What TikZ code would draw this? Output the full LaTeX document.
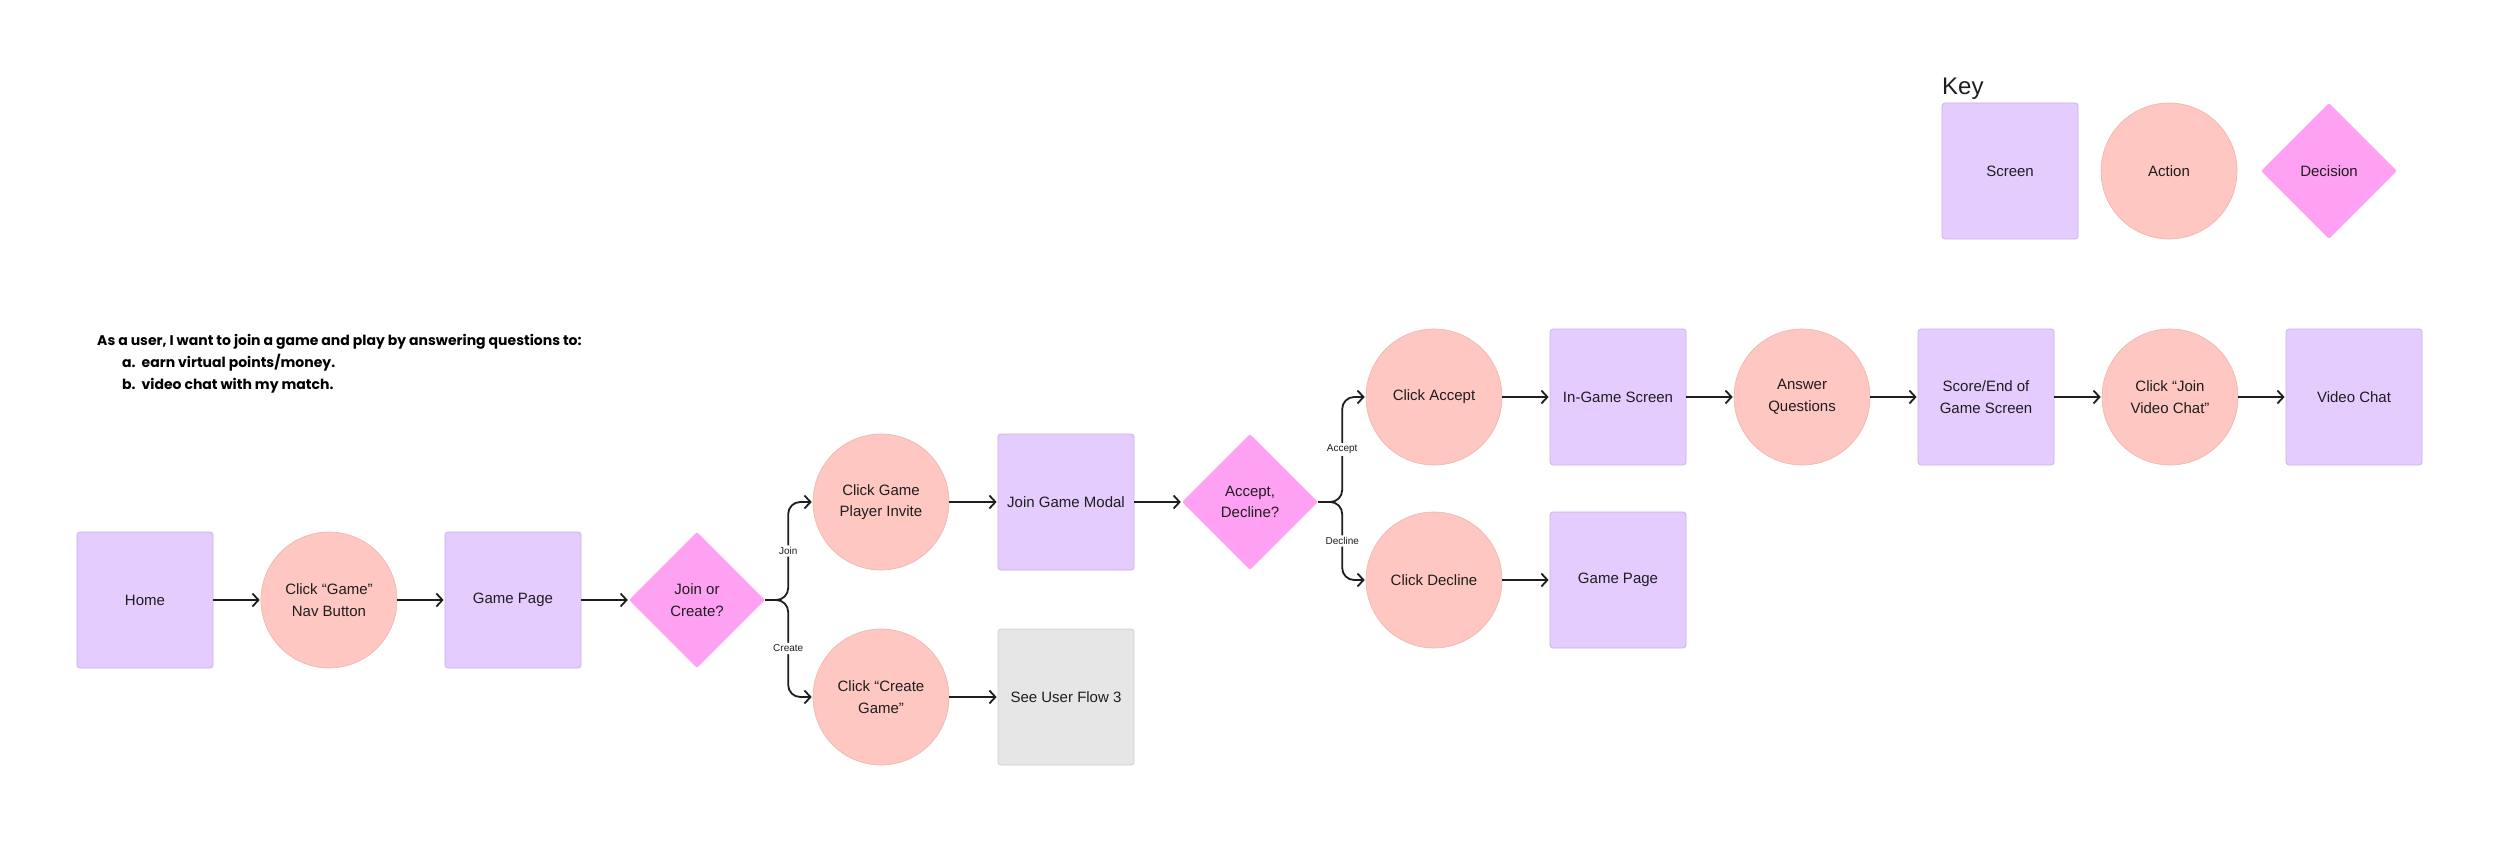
\documentclass[tikz,border=0pt]{standalone}
\usepackage{fontspec}
\setmainfont{Liberation Sans}
\newfontfamily\popfont{Poppins}
\usetikzlibrary{shapes.geometric,arrows.meta}
\definecolor{scr}{HTML}{E4CCFF}
\definecolor{scrb}{HTML}{C9B2E4}
\definecolor{act}{HTML}{FFC7C2}
\definecolor{actb}{HTML}{EDB4AE}
\definecolor{dec}{HTML}{FFA1F3}
\definecolor{gry}{HTML}{E6E6E6}
\definecolor{gryb}{HTML}{CFCFCF}
\definecolor{ink}{HTML}{1E1E1E}
\tikzset{
  base/.style={inner sep=0pt, align=center, text=ink, font=\fontsize{15}{21.5}\selectfont},
  screen/.style={base, draw=scrb, line width=0.8pt, fill=scr, rounded corners=3pt, minimum width=136pt, minimum height=136pt},
  other/.style={base, draw=gryb, line width=0.8pt, fill=gry, rounded corners=3pt, minimum width=136pt, minimum height=136pt},
  action/.style={base, circle, draw=actb, line width=0.6pt, fill=act, minimum size=136pt},
  decision/.style={base, diamond, fill=dec, aspect=1, minimum width=136pt, minimum height=136pt, rounded corners=2pt},
  flow/.style={draw=ink, line width=1.8pt, -{Straight Barb[length=6pt,width=13pt,line width=1.8pt]}, shorten >=1pt},
  branch/.style={flow, rounded corners=12pt},
  blabel/.style={fill=white, inner sep=2pt, text=ink, font=\fontsize{10}{12}\selectfont}
}
\begin{document}
\begin{tikzpicture}[x=1pt,y=-1pt]
\useasboundingbox[fill=white] (0,0) rectangle (2500,842);

% heading (anchor at the baseline of its last line)
\node[anchor=base west, inner sep=0pt, align=left, text=black, font=\popfont\bfseries\fontsize{14}{21.6}\selectfont] (story) at (97,389)
  {As a user, I want to join a game and play by answering questions to:\\
   \hspace*{25pt}a.\hspace*{6pt}earn virtual points/money.\\
   \hspace*{25pt}b.\hspace*{6pt}video chat with my match.};

% key
\node[anchor=base west, inner sep=0pt, text=ink, font=\fontsize{24}{28}\selectfont] (keytitle) at (1942,95) {Key};
\node[screen] (kscreen) at (2010,171) {Screen};
\node[action] (kaction) at (2169,171) {Action};
\node[decision] (kdecision) at (2329,171) {Decision};

% main flow
\node[screen] (home) at (145,600) {Home};
\node[action] (clickgame) at (329,600) {Click “Game”\\Nav Button};
\node[screen] (gamepage) at (513,600) {Game Page};
\node[decision] (joincreate) at (697,600) {Join or\\Create?};
\node[action] (invite) at (881,502) {Click Game\\Player Invite};
\node[screen] (modal) at (1066,502) {Join Game Modal};
\node[action] (create) at (881,697) {Click “Create\\Game”};
\node[other] (flow3) at (1066,697) {See User Flow 3};
\node[decision] (accdec) at (1250,502) {Accept,\\Decline?};
\node[action] (accept) at (1434,397) {Click Accept};
\node[screen] (ingame) at (1618,397) {In-Game Screen};
\node[action] (answer) at (1802,397) {Answer\\Questions};
\node[screen] (score) at (1986,397) {Score/End of\\Game Screen};
\node[action] (joinvc) at (2170,397) {Click “Join\\Video Chat”};
\node[screen] (video) at (2354,397) {Video Chat};
\node[action] (decline) at (1434,580) {Click Decline};
\node[screen] (gamepage2) at (1618,580) {Game Page};

% connectors
\draw[flow] (home) -- (clickgame);
\draw[flow] (clickgame) -- (gamepage);
\draw[flow] (gamepage) -- (joincreate);
\draw[branch] (joincreate.east) -- ++(23,0) |- node[blabel,pos=0.25]{Join} (invite.west);
\draw[branch] (joincreate.east) -- ++(23,0) |- node[blabel,pos=0.25]{Create} (create.west);
\draw[flow] (invite) -- (modal);
\draw[flow] (create) -- (flow3);
\draw[flow] (modal) -- (accdec);
\draw[branch] (accdec.east) -- ++(24,0) |- node[blabel,pos=0.25]{Accept} (accept.west);
\draw[branch] (accdec.east) -- ++(24,0) |- node[blabel,pos=0.25]{Decline} (decline.west);
\draw[flow] (accept) -- (ingame);
\draw[flow] (ingame) -- (answer);
\draw[flow] (answer) -- (score);
\draw[flow] (score) -- (joinvc);
\draw[flow] (joinvc) -- (video);
\draw[flow] (decline) -- (gamepage2);
\end{tikzpicture}
\end{document}
